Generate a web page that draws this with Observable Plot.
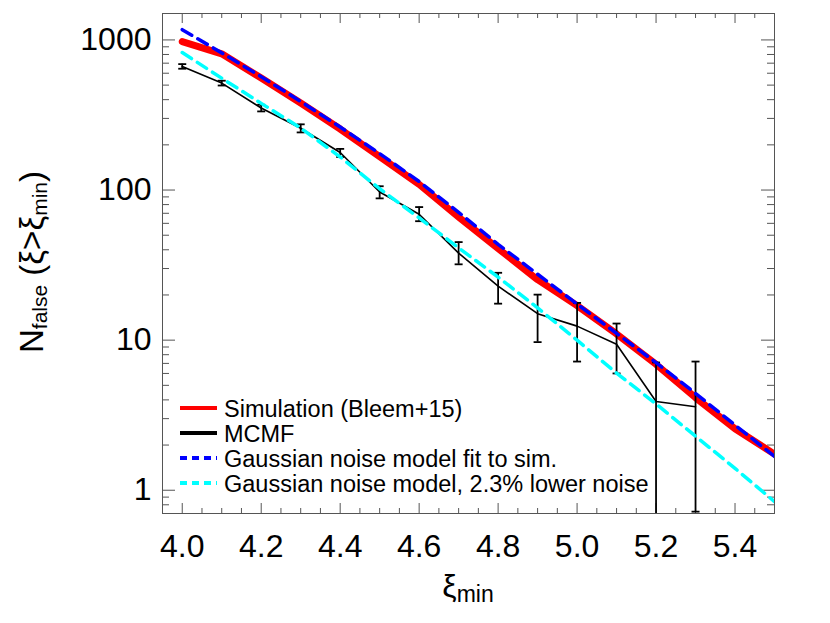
<!DOCTYPE html>
<html><head><meta charset="utf-8">
<script src="https://cdn.jsdelivr.net/npm/d3@7"></script>
<script src="https://cdn.jsdelivr.net/npm/@observablehq/plot@0.6"></script>
<style>
html,body{margin:0;padding:0;background:#fff;}
#chart{position:relative;width:830px;height:623px;overflow:hidden;}
svg text{font-family:"Liberation Sans",Arial,Helvetica,sans-serif;}
</style></head><body><div id="chart"></div>
<script>
// ---- data ----
const xi = [4.0,4.1,4.2,4.3,4.4,4.5,4.6,4.7,4.8,4.9,5.0,5.1,5.2,5.3,5.4,5.5];
const simulation = [975,808,557,380,255,167,109,66,40.8,25.3,17.0,11.0,6.9,4.14,2.57,1.74];
const gaussFit   = [1170,820,569,389,263,175,114,71,43.5,27.5,17.4,11.1,7.08,4.42,2.72,1.68];
const gaussLow   = [824,556,378,259,166,102,65.2,41.2,26.3,16.4,10.0,6.03,3.76,2.29,1.40,0.84];
const mcmfXi   = [4.0,4.1,4.2,4.3,4.4,4.5,4.6,4.7,4.8,4.9,5.0,5.1,5.2,5.3];
const mcmf     = [665,516,352,258,178,97,69,38,22.9,15.0,12.4,9.4,3.9,3.6];
const mcmfLow  = [643,497,334,242,166,88,62,32,17.5,9.7,7.2,6.0,0.5,0.72];
const mcmfHigh = [690,535,370,274,188,106,77,45,28.1,20.1,17.7,12.9,7.1,7.2];
const xTickLabels = [4.0,4.2,4.4,4.6,4.8,5.0,5.2,5.4];
const yTickLabels = [1,10,100,1000];
const legendNames = ["Simulation (Bleem+15)","MCMF","Gaussian noise model fit to sim.","Gaussian noise model, 2.3% lower noise"];
const legendColors = ["#ff0000","#000000","#0000ff","#00ffff"];

// ---- tables ----
const curves = xi.map((x,i)=>({xi:x, sim:simulation[i], fit:gaussFit[i], low:gaussLow[i]}));
const mc = mcmfXi.map((x,i)=>({xi:x, n:mcmf[i], lo:mcmfLow[i], hi:mcmfHigh[i]}));
const xMinor = d3.range(79,110).map(k=>k*0.05).filter(v=>Math.abs(v*5-Math.round(v*5))>1e-6 && v<5.5);
const yMinor = [0.1,1,10,100,1000].flatMap(d=>[2,3,4,5,6,7,8,9].map(m=>d*m)).filter(v=>v>=0.7&&v<=1500);

const W = 830, H = 623, mL = 162, mR = 56, mT = 13, mB = 110;
const iw = W-mL-mR, ih = H-mT-mB;
const axisColor = "#555";
const cap = {draw(ctx){ctx.moveTo(-4,0);ctx.lineTo(4,0);}};

const svg = Plot.plot({
  width: W, height: H,
  marginLeft: mL, marginRight: mR, marginTop: mT, marginBottom: mB,
  style: {background:"white", color:"black", fontFamily:'"Liberation Sans",Arial,Helvetica,sans-serif'},
  x: {domain:[3.95,5.5]},
  y: {type:"log", domain:[0.7,1500]},
  marks: [
    // ticks (inward, all four sides)
    Plot.tickX(xTickLabels, {x:d=>d, insetTop: ih-10, stroke: axisColor}),
    Plot.tickX(xTickLabels, {x:d=>d, insetBottom: ih-10, stroke: axisColor}),
    Plot.tickX(xMinor, {x:d=>d, insetTop: ih-5, stroke: axisColor}),
    Plot.tickX(xMinor, {x:d=>d, insetBottom: ih-5, stroke: axisColor}),
    Plot.tickY(yTickLabels, {y:d=>d, insetRight: iw-13, stroke: axisColor}),
    Plot.tickY(yTickLabels, {y:d=>d, insetLeft: iw-13, stroke: axisColor}),
    Plot.tickY(yMinor, {y:d=>d, insetRight: iw-7, stroke: axisColor}),
    Plot.tickY(yMinor, {y:d=>d, insetLeft: iw-7, stroke: axisColor}),
    Plot.axisX(xTickLabels, {tickSize:0, tickPadding:21, tickFormat:".1f", fontSize:32, label:null}),
    Plot.axisY(yTickLabels, {tickSize:0, tickPadding:11, tickFormat:"d", fontSize:32, label:null}),
    // data
    Plot.line(curves, {x:"xi", y:"sim", stroke:"#ff0000", strokeWidth:7, clip:true}),
    Plot.line(mc, {x:"xi", y:"n", stroke:"black", strokeWidth:1.6, clip:true}),
    Plot.ruleX(mc, {x:"xi", y1:"lo", y2:"hi", stroke:"black", strokeWidth:1.8, clip:true}),
    Plot.dot(mc, {x:"xi", y:"lo", symbol:cap, stroke:"black", strokeWidth:1.8, r:4, clip:true}),
    Plot.dot(mc, {x:"xi", y:"hi", symbol:cap, stroke:"black", strokeWidth:1.8, r:4, clip:true}),
    Plot.line(curves, {x:"xi", y:"fit", stroke:"#0000ff", strokeWidth:3.5, strokeDasharray:"11,7", clip:true}),
    Plot.line(curves, {x:"xi", y:"low", stroke:"#00ffff", strokeWidth:3.5, strokeDasharray:"11,7", clip:true}),
    Plot.frame({stroke: axisColor})
  ]
});
document.getElementById("chart").appendChild(svg);

const s = d3.select(svg);
// y-axis title
const yt = s.append("text").attr("transform","translate(43,262) rotate(-90)")
  .attr("text-anchor","middle").attr("font-size",33).attr("fill","black");
yt.append("tspan").text("N");
yt.append("tspan").attr("font-size",21).attr("dy",4).text("false");
yt.append("tspan").attr("dy",-4).text(" (ξ>ξ");
yt.append("tspan").attr("font-size",21).attr("dy",4).text("min");
yt.append("tspan").attr("dy",-4).text(")");
// x-axis title
const xt = s.append("text").attr("x", mL+iw/2).attr("y",597)
  .attr("text-anchor","middle").attr("font-size",32).attr("fill","black");
xt.append("tspan").text("ξ");
xt.append("tspan").attr("font-size",23).attr("dy",5).text("min");
// legend
const lg = s.append("g").attr("text-anchor","start");
legendNames.forEach((name,i)=>{
  const y = 408 + i*25;
  lg.append("line").attr("x1",180).attr("x2",217).attr("y1",y).attr("y2",y)
    .attr("stroke",legendColors[i]).attr("stroke-width",4)
    .attr("stroke-dasharray", i>=2 ? "7,5" : null);
  lg.append("text").attr("x",224).attr("y",y+8.5).attr("font-size",23.5)
    .attr("text-anchor","start").attr("fill","black").text(name);
});
</script></body></html>
